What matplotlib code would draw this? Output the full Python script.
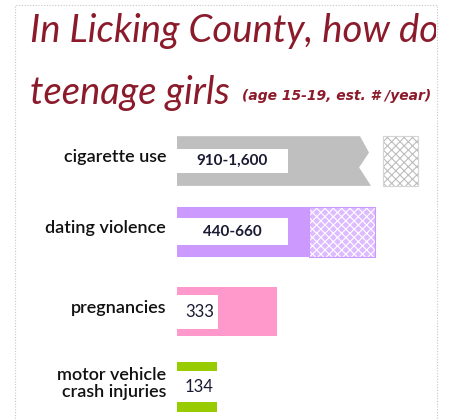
import matplotlib
matplotlib.use("Agg")
import matplotlib.pyplot as plt
from matplotlib.patches import Rectangle, Polygon

# ---- data ----
categories = ["cigarette use", "dating violence", "pregnancies", "motor vehicle\ncrash injuries"]
low_values = [910, 440, 333, 134]
high_values = [1600, 660, 333, 134]
value_labels = ["910-1,600", "440-660", "333", "134"]

title_line1 = "In Licking County, how do"
title_line2 = "teenage girls"
title_note = "(age 15-19, est. # /year)"

# ---- style / layout ----
colors = ["#BFBFBF", "#CC99FF", "#FF99CC", "#99CC00"]
hatch_faces = ["#FFFFFF", "#DDBBFF", None, None]
hatch_lines = ["#BDBDBD", "#FFFFFF", None, None]
ypos = [0, 0.94, 2.0, 3.0]
bar_h = 0.66
PX = 0.30                        # pixels per unit
box_w = [111 / PX, 111 / PX, 41 / PX, 45 / PX]
box_h = [0.33, 0.36, 0.45, 0.41]
label_weights = ["bold", "bold", "normal", "normal"]
label_sizes = [11, 11, 12, 12]
axis_break = 183 / PX            # where the cigarette bar is broken
tail_start, tail_end = 206 / PX, 241 / PX
TITLE_COLOR = "#8B1A2A"
W, H = 453, 420

plt.rcParams["font.family"] = ["Lato", "DejaVu Sans"]
plt.rcParams["hatch.linewidth"] = 0.8

fig = plt.figure(figsize=(W / 100, H / 100), dpi=100)
fig.patch.set_facecolor("white")

# dotted frame
frame = Rectangle((15 / W, -0.05), (437 - 15) / W, 1.05 - 5 / H,
                  transform=fig.transFigure, fill=False,
                  ec="#C8C8C8", lw=0.8, ls=(0, (1, 1.5)))
fig.add_artist(frame)
clip = Rectangle((15 / W, -0.05), (436 - 15) / W, 1.05 - 5 / H,
                 transform=fig.transFigure, fill=False, ec="none")

# axes in pixel-derived position
ax_left, ax_right = 177, 437
ax_top, ax_bot = 123, 420
ax = fig.add_axes([ax_left / W, 1 - ax_bot / H, (ax_right - ax_left) / W, (ax_bot - ax_top) / H])
ax.set_xlim(0, (ax_right - ax_left) / PX)
ax.set_ylim(3.44, -0.505)
ax.axis("off")

for i, cat in enumerate(categories):
    y = ypos[i]
    lo, hi = low_values[i], high_values[i]
    y0, y1 = y - bar_h / 2, y + bar_h / 2
    if lo > axis_break:
        # broken bar with zigzag end
        h = bar_h
        pts = [(0, y0), (axis_break, y0), (axis_break + 30, y0 + 0.33 * h),
               (axis_break - 3, y0 + 0.63 * h), (axis_break + 37, y1), (0, y1)]
        ax.add_patch(Polygon(pts, closed=True, fc=colors[i], ec="none"))
        ax.add_patch(Rectangle((tail_start, y0), tail_end - tail_start, h,
                               fc=hatch_faces[i], ec=hatch_lines[i], lw=0.0, hatch="xxxx"))
        ax.add_patch(Rectangle((tail_start, y0), tail_end - tail_start, h,
                               fc="none", ec="#D4D4D4", lw=0.8))
    else:
        ax.barh(y, lo, height=bar_h, left=0, color=colors[i], edgecolor="none")
        if hi > lo:
            ax.barh(y, hi - lo, height=bar_h, left=lo, color=hatch_faces[i],
                    edgecolor=hatch_lines[i], lw=0, hatch="xxxx")
            ax.add_patch(Rectangle((lo, y0), hi - lo, bar_h, fc="none",
                                   ec=colors[i], lw=0.8))
    # white label box
    ax.add_patch(Rectangle((0, y - box_h[i] / 2), box_w[i], box_h[i], fc="white", ec="none", zorder=3))
    ax.text(min(box_w[i], lo) / 2 + (0 if i < 2 else 6), y, value_labels[i], ha="center", va="center",
            fontsize=label_sizes[i], fontweight=label_weights[i], color="#1A1A33", zorder=4)

# category labels (baseline of last line, in px)
cat_base_px = [162, 233, 313, 397]
for i, cat in enumerate(categories):
    fig.text(166 / W, 1 - cat_base_px[i] / H, cat, ha="right", va="baseline",
             fontsize=13, fontweight="semibold", color="#111111", linespacing=1.05)

# titles
t1 = fig.text(30 / W, 1 - 42 / H, title_line1, ha="left", va="baseline",
              fontsize=27.5, style="italic", color=TITLE_COLOR)
t2 = fig.text(30 / W, 1 - 104 / H, title_line2, ha="left", va="baseline",
              fontsize=27.5, style="italic", color=TITLE_COLOR)
t3 = fig.text(242 / W, 1 - 100 / H, title_note, ha="left", va="baseline",
              fontsize=10, style="italic", fontweight="bold", color=TITLE_COLOR,
              family=["DejaVu Sans"])
for t in (t1, t2, t3):
    t.set_clip_path(clip)

fig.savefig("out.png", dpi=100, facecolor="white")
